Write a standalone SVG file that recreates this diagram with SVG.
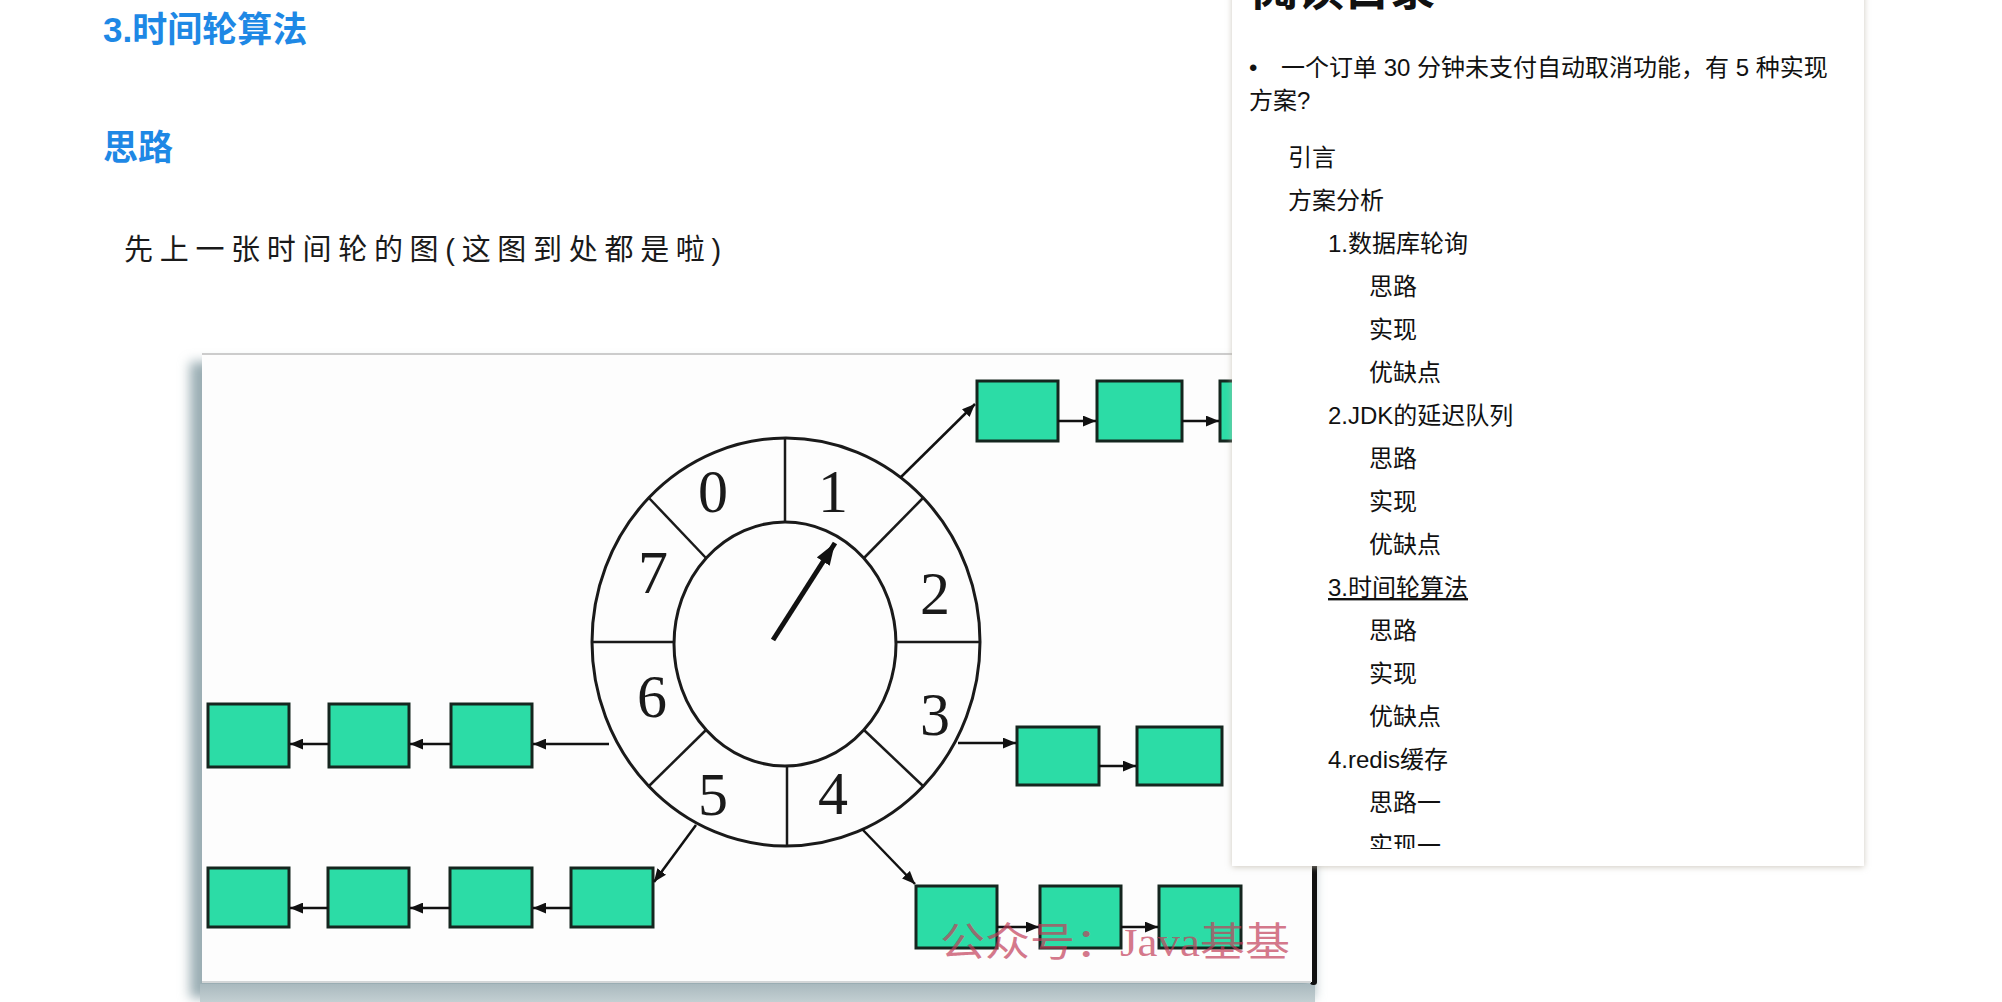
<svg xmlns="http://www.w3.org/2000/svg" width="2002" height="1002" viewBox="0 0 2002 1002">
<style>
.h{font-family:"Liberation Sans","Noto Sans CJK SC",sans-serif;font-weight:bold;fill:#1e88e5}
.body{font-family:"Liberation Sans","Noto Sans CJK SC",sans-serif;font-size:29px;letter-spacing:6.7px;fill:#1a1a1a}
.toc{font-family:"Liberation Sans","Noto Sans CJK SC",sans-serif;font-size:24px;fill:#111}
.box{fill:#2cdca6;stroke:#15261f;stroke-width:3}
.ring{fill:none;stroke:#1a1a1a;stroke-width:3}
.div{stroke:#1a1a1a;stroke-width:2.5}
.num{font-family:"Liberation Serif","DejaVu Serif",serif;font-size:62px;fill:#1a1a1a;text-anchor:middle}
.con{stroke:#111;stroke-width:2.5;fill:none;marker-end:url(#ah)}
.wm{font-family:"Liberation Serif","Noto Sans CJK SC",serif;font-size:40px;fill:#c23c58;fill-opacity:0.7}
</style>
<defs>
<marker id="ah" viewBox="0 0 12 10" refX="12" refY="5" markerWidth="13" markerHeight="11" markerUnits="userSpaceOnUse" orient="auto"><path d="M0,0 L12,5 L0,10 z" fill="#111"/></marker>
<marker id="ahBig" viewBox="0 0 20 14" refX="20" refY="7" markerWidth="22" markerHeight="16" markerUnits="userSpaceOnUse" orient="auto"><path d="M0,0 L20,7 L0,14 z" fill="#111"/></marker>
<filter id="blur" x="-5%" y="-5%" width="110%" height="110%"><feGaussianBlur stdDeviation="6"/></filter>
<filter id="pshadow" x="-5%" y="-5%" width="110%" height="110%"><feDropShadow dx="0" dy="1" stdDeviation="3" flood-color="#b9b2a4" flood-opacity="0.7"/></filter>
<linearGradient id="band" x1="0" y1="0" x2="0" y2="1"><stop offset="0" stop-color="#a9b9be"/><stop offset="1" stop-color="#c3cfd2"/></linearGradient>
<clipPath id="tocclip"><rect x="1232" y="-20" width="632" height="869"/></clipPath>
</defs>
<rect width="2002" height="1002" fill="#ffffff"/>

<g id="heading">
<text class="h" x="103" y="42" font-size="35">3.时间轮算法</text>
<text class="h" x="103" y="160" font-size="35">思路</text>
<text class="body" x="124" y="260">先上一张时间轮的图(这图到处都是啦)</text>
</g>

<g id="image-frame">
<rect x="190" y="362" width="1124" height="636" fill="#9aadb3" filter="url(#blur)"/>
<rect x="200" y="984" width="1115" height="18" fill="url(#band)"/>
<rect x="1310" y="360" width="7" height="625" rx="3" fill="#111"/>
<rect x="202" y="353" width="1110" height="629" fill="#fdfdfd"/>
<line x1="202" y1="354" x2="1312" y2="354" stroke="#cccccc" stroke-width="2"/>
<line x1="202" y1="982" x2="1311" y2="982" stroke="#d3d6d7" stroke-width="2"/>
</g>

<g id="wheel">
<ellipse class="ring" cx="786" cy="642" rx="194" ry="204"/>
<ellipse class="ring" cx="785" cy="644" rx="111" ry="122"/>
<line class="div" x1="785" y1="438" x2="785" y2="522"/>
<line class="div" x1="787" y1="766" x2="787" y2="846"/>
<line class="div" x1="592" y1="642" x2="674" y2="642"/>
<line class="div" x1="896" y1="642" x2="980" y2="642"/>
<line class="div" x1="649" y1="498" x2="706" y2="558"/>
<line class="div" x1="923" y1="498" x2="864" y2="558"/>
<line class="div" x1="649" y1="786" x2="706" y2="730"/>
<line class="div" x1="923" y1="786" x2="864" y2="730"/>
<text class="num" x="713" y="512" textLength="30" lengthAdjust="spacingAndGlyphs">0</text>
<text class="num" x="833" y="512" textLength="30" lengthAdjust="spacingAndGlyphs">1</text>
<text class="num" x="653" y="593" textLength="30" lengthAdjust="spacingAndGlyphs">7</text>
<text class="num" x="935" y="614" textLength="30" lengthAdjust="spacingAndGlyphs">2</text>
<text class="num" x="652" y="717" textLength="30" lengthAdjust="spacingAndGlyphs">6</text>
<text class="num" x="935" y="735" textLength="30" lengthAdjust="spacingAndGlyphs">3</text>
<text class="num" x="713" y="815" textLength="30" lengthAdjust="spacingAndGlyphs">5</text>
<text class="num" x="833" y="814" textLength="30" lengthAdjust="spacingAndGlyphs">4</text>
<line x1="773" y1="640" x2="835" y2="543" stroke="#111" stroke-width="5" marker-end="url(#ahBig)"/>
</g>

<g id="slot1-list">
<rect class="box" x="977" y="381" width="81" height="60"/>
<rect class="box" x="1097" y="381" width="85" height="60"/>
<rect class="box" x="1220" y="381" width="82" height="60"/>
</g>
<g id="slot3-list">
<rect class="box" x="1017" y="727" width="82" height="58"/>
<rect class="box" x="1137" y="727" width="85" height="58"/>
</g>
<g id="slot4-list">
<rect class="box" x="916" y="886" width="81" height="62"/>
<rect class="box" x="1040" y="886" width="81" height="62"/>
<rect class="box" x="1159" y="886" width="82" height="62"/>
</g>
<g id="slot6-list">
<rect class="box" x="208" y="704" width="81" height="63"/>
<rect class="box" x="329" y="704" width="80" height="63"/>
<rect class="box" x="451" y="704" width="81" height="63"/>
</g>
<g id="slot5-list">
<rect class="box" x="208" y="868" width="81" height="59"/>
<rect class="box" x="328" y="868" width="81" height="59"/>
<rect class="box" x="450" y="868" width="82" height="59"/>
<rect class="box" x="571" y="868" width="82" height="59"/>
</g>

<g id="connectors">
<line class="con" x1="900" y1="478" x2="975" y2="404"/>
<line class="con" x1="1058" y1="421" x2="1096" y2="421"/>
<line class="con" x1="1182" y1="421" x2="1219" y2="421"/>
<line class="con" x1="958" y1="743" x2="1016" y2="743"/>
<line class="con" x1="1099" y1="766" x2="1136" y2="766"/>
<line class="con" x1="862" y1="829" x2="915" y2="884"/>
<line class="con" x1="997" y1="927" x2="1039" y2="927"/>
<line class="con" x1="1121" y1="927" x2="1158" y2="927"/>
<line class="con" x1="609" y1="744" x2="533" y2="744"/>
<line class="con" x1="451" y1="744" x2="410" y2="744"/>
<line class="con" x1="329" y1="744" x2="290" y2="744"/>
<line class="con" x1="696" y1="825" x2="654" y2="882"/>
<line class="con" x1="571" y1="908" x2="533" y2="908"/>
<line class="con" x1="450" y1="908" x2="410" y2="908"/>
<line class="con" x1="328" y1="908" x2="290" y2="908"/>
</g>

<g id="watermark">
<text class="wm" x="940" y="956" textLength="350" lengthAdjust="spacingAndGlyphs">公众号：Java基基</text>
</g>

<g id="toc-panel">
<rect x="1232" y="-10" width="632" height="876" fill="#ffffff" filter="url(#pshadow)"/>
<g clip-path="url(#tocclip)">
<text class="toc" x="1252" y="5" font-weight="bold" style="font-size:46px">阅读目录</text>
<text class="toc" x="1249" y="76">•</text>
<text class="toc" x="1281" y="76">一个订单 30 分钟未支付自动取消功能，有 5 种实现</text>
<text class="toc" x="1249" y="109">方案?</text>
<text class="toc" x="1288" y="166">引言</text>
<text class="toc" x="1288" y="209">方案分析</text>
<text class="toc" x="1328" y="252">1.数据库轮询</text>
<text class="toc" x="1369" y="295">思路</text>
<text class="toc" x="1369" y="338">实现</text>
<text class="toc" x="1369" y="381">优缺点</text>
<text class="toc" x="1328" y="424">2.JDK的延迟队列</text>
<text class="toc" x="1369" y="467">思路</text>
<text class="toc" x="1369" y="510">实现</text>
<text class="toc" x="1369" y="553">优缺点</text>
<text class="toc" x="1328" y="596" text-decoration="underline">3.时间轮算法</text>
<text class="toc" x="1369" y="639">思路</text>
<text class="toc" x="1369" y="682">实现</text>
<text class="toc" x="1369" y="725">优缺点</text>
<text class="toc" x="1328" y="768">4.redis缓存</text>
<text class="toc" x="1369" y="811">思路一</text>
<text class="toc" x="1369" y="854">实现一</text>
</g>
</g>
</svg>
